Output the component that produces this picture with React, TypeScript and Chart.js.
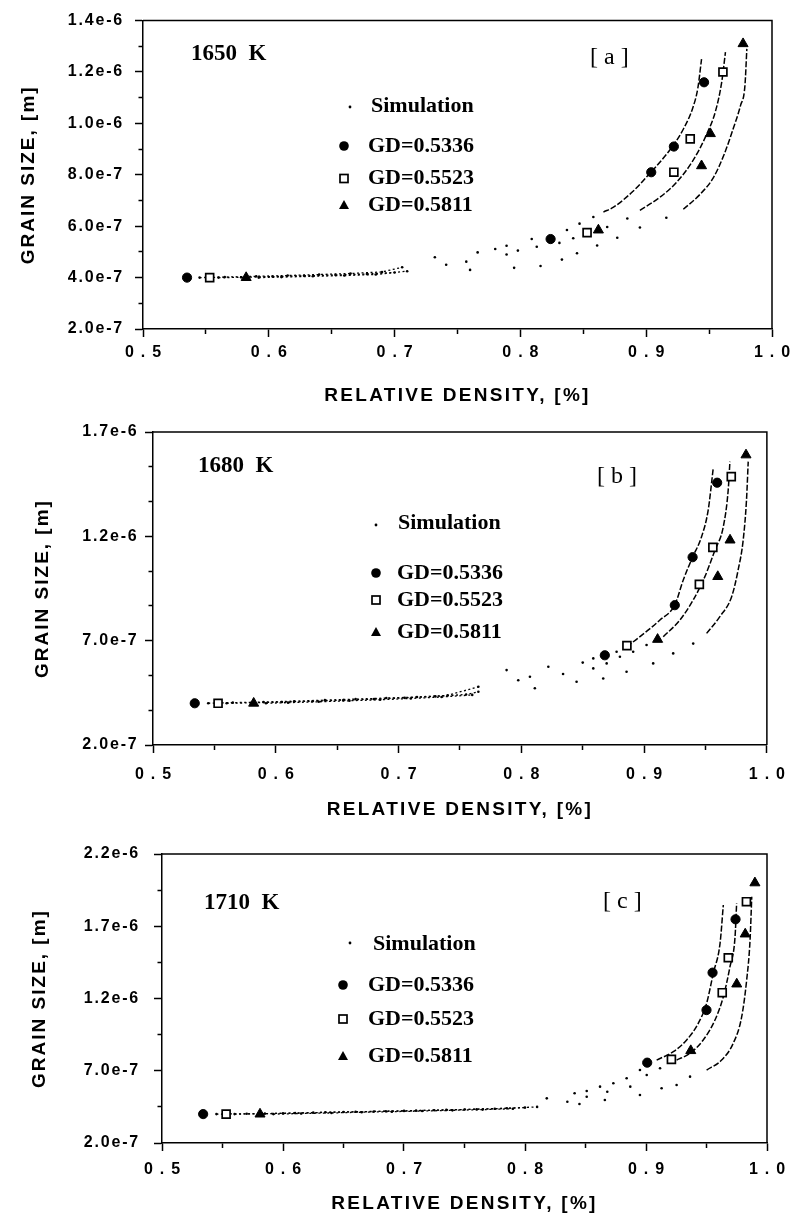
import React, { useEffect, useRef } from "react";
import { Chart, registerables } from "chart.js";

Chart.register(...registerables);

type Pt = [number, number];

// ---------------- axis ticks & texts ----------------
const X_MAJOR = [0.5, 0.6, 0.7, 0.8, 0.9, 1.0];
const X_MINOR = [0.55, 0.65, 0.75, 0.85, 0.95];

const A_Y_MAJOR = [2e-7, 4e-7, 6e-7, 8e-7, 1.0e-6, 1.2e-6, 1.4e-6];
const A_Y_MINOR = [3e-7, 5e-7, 7e-7, 9e-7, 1.1e-6, 1.3e-6];
const B_Y_MAJOR = [2e-7, 7e-7, 1.2e-6, 1.7e-6];
const B_Y_MINOR = [3.667e-7, 5.333e-7, 8.667e-7, 1.0333e-6, 1.3667e-6, 1.5333e-6];
const C_Y_MAJOR = [2e-7, 7e-7, 1.2e-6, 1.7e-6, 2.2e-6];
const C_Y_MINOR = [4.5e-7, 9.5e-7, 1.45e-6, 1.95e-6];

const X_TITLE = "RELATIVE DENSITY, [%]";
const Y_TITLE = "GRAIN SIZE, [m]";
const LEGEND_LABELS = ["Simulation", "GD=0.5336", "GD=0.5523", "GD=0.5811"];
const TEMPS = ["1650  K", "1680  K", "1710  K"];
const TAGS = ["[ a ]", "[ b ]", "[ c ]"];

// density up to which the simulated dots run together as a dotted line
const FLAT_END = [0.712, 0.766, 0.812];

// ---------------- panel a (1650 K) ----------------
const A_GD1: Pt[] = [[0.535, 4.0e-7], [0.824, 5.5e-7], [0.904, 8.1e-7], [0.922, 9.1e-7], [0.946, 1.16e-6]];
const A_GD2: Pt[] = [[0.553, 4.0e-7], [0.853, 5.75e-7], [0.922, 8.1e-7], [0.935, 9.4e-7], [0.961, 1.2e-6]];
const A_GD3: Pt[] = [[0.582, 4.0e-7], [0.862, 5.85e-7], [0.944, 8.35e-7], [0.951, 9.6e-7], [0.977, 1.31e-6]];

const A_SIM1_DOTS: Pt[] = [[0.545, 4.0e-7], [0.565, 4.02e-7], [0.59, 4.05e-7], [0.615, 4.08e-7], [0.64, 4.12e-7], [0.665, 4.16e-7], [0.69, 4.22e-7], [0.706, 4.4e-7], [0.732, 4.79e-7], [0.766, 4.98e-7], [0.78, 5.11e-7], [0.789, 5.24e-7], [0.809, 5.5e-7], [0.837, 5.85e-7], [0.847, 6.1e-7], [0.858, 6.36e-7]];
const A_SIM1_LINE: Pt[] = [[0.866, 6.55e-7], [0.874, 6.74e-7], [0.89, 7.38e-7], [0.9, 7.9e-7], [0.914, 8.67e-7], [0.922, 9.18e-7], [0.93, 9.82e-7], [0.937, 1.06e-6], [0.941, 1.136e-6], [0.944, 1.25e-6]];
const A_SIM2_DOTS: Pt[] = [[0.56, 4.0e-7], [0.578, 4.01e-7], [0.603, 4.04e-7], [0.628, 4.07e-7], [0.653, 4.1e-7], [0.678, 4.14e-7], [0.7, 4.2e-7], [0.741, 4.5e-7], [0.757, 4.62e-7], [0.789, 4.9e-7], [0.798, 5.05e-7], [0.813, 5.2e-7], [0.831, 5.35e-7], [0.842, 5.53e-7], [0.869, 5.97e-7], [0.885, 6.3e-7]];
const A_SIM2_LINE: Pt[] = [[0.895, 6.62e-7], [0.911, 7.13e-7], [0.924, 7.7e-7], [0.937, 8.54e-7], [0.948, 9.57e-7], [0.955, 1.046e-6], [0.96, 1.16e-6], [0.963, 1.277e-6]];
const A_SIM3_DOTS: Pt[] = [[0.592, 4.0e-7], [0.61, 4.02e-7], [0.635, 4.05e-7], [0.66, 4.08e-7], [0.685, 4.12e-7], [0.71, 4.25e-7], [0.76, 4.3e-7], [0.795, 4.38e-7], [0.816, 4.45e-7], [0.833, 4.7e-7], [0.845, 4.95e-7], [0.861, 5.25e-7], [0.877, 5.55e-7], [0.895, 5.95e-7], [0.916, 6.33e-7]];
const A_SIM3_LINE: Pt[] = [[0.9295, 6.66e-7], [0.942, 7.2e-7], [0.9533, 7.88e-7], [0.962, 8.8e-7], [0.9692, 9.8e-7], [0.975, 1.07e-6], [0.9785, 1.148e-6], [0.98, 1.29e-6]];

// ---------------- panel b (1680 K) ----------------
const B_GD1: Pt[] = [[0.534, 4.0e-7], [0.868, 6.3e-7], [0.925, 8.7e-7], [0.9395, 1.1e-6], [0.9595, 1.457e-6]];
const B_GD2: Pt[] = [[0.553, 4.0e-7], [0.886, 6.76e-7], [0.945, 9.7e-7], [0.956, 1.147e-6], [0.971, 1.486e-6]];
const B_GD3: Pt[] = [[0.582, 4.0e-7], [0.911, 7.06e-7], [0.96, 1.007e-6], [0.97, 1.182e-6], [0.983, 1.59e-6]];

const B_SIM1_DOTS: Pt[] = [[0.545, 4.0e-7], [0.565, 4.03e-7], [0.59, 4.06e-7], [0.615, 4.1e-7], [0.64, 4.15e-7], [0.665, 4.2e-7], [0.69, 4.25e-7], [0.715, 4.3e-7], [0.74, 4.38e-7], [0.765, 4.79e-7], [0.788, 5.59e-7], [0.822, 5.75e-7], [0.85, 5.95e-7], [0.8586, 6.15e-7], [0.8776, 6.47e-7]];
const B_SIM1_LINE: Pt[] = [[0.8857, 6.71e-7], [0.8966, 7.19e-7], [0.9129, 7.99e-7], [0.925, 8.71e-7], [0.9319, 9.91e-7], [0.9395, 1.1e-6], [0.9468, 1.198e-6], [0.9522, 1.326e-6], [0.9563, 1.526e-6]];
const B_SIM2_DOTS: Pt[] = [[0.56, 4.0e-7], [0.58, 4.02e-7], [0.605, 4.06e-7], [0.63, 4.1e-7], [0.655, 4.15e-7], [0.68, 4.2e-7], [0.705, 4.26e-7], [0.73, 4.33e-7], [0.755, 4.42e-7], [0.765, 4.55e-7], [0.7975, 5.1e-7], [0.807, 5.27e-7], [0.834, 5.4e-7], [0.8586, 5.67e-7], [0.8695, 5.91e-7], [0.8803, 6.23e-7], [0.8911, 6.47e-7], [0.902, 6.79e-7]];
const B_SIM2_LINE: Pt[] = [[0.9156, 7.19e-7], [0.9292, 7.99e-7], [0.94, 8.95e-7], [0.9495, 1.007e-6], [0.9577, 1.134e-6], [0.9645, 1.246e-6], [0.9685, 1.422e-6], [0.9699, 1.558e-6]];
const B_SIM3_DOTS: Pt[] = [[0.592, 4.0e-7], [0.61, 4.03e-7], [0.635, 4.07e-7], [0.66, 4.12e-7], [0.685, 4.17e-7], [0.71, 4.23e-7], [0.735, 4.3e-7], [0.76, 4.4e-7], [0.811, 4.72e-7], [0.845, 5.03e-7], [0.8667, 5.19e-7], [0.8857, 5.51e-7], [0.9074, 5.91e-7], [0.9237, 6.39e-7], [0.94, 6.86e-7]];
const B_SIM3_LINE: Pt[] = [[0.9509, 7.35e-7], [0.9617, 8.15e-7], [0.9713, 9.11e-7], [0.9766, 1.039e-6], [0.9807, 1.182e-6], [0.9834, 1.374e-6], [0.9848, 1.558e-6]];

// ---------------- panel c (1710 K) ----------------
const C_GD1: Pt[] = [[0.534, 4.0e-7], [0.901, 7.56e-7], [0.95, 1.12e-6], [0.955, 1.379e-6], [0.974, 1.748e-6]];
const C_GD2: Pt[] = [[0.553, 4.0e-7], [0.921, 7.79e-7], [0.963, 1.24e-6], [0.968, 1.482e-6], [0.983, 1.87e-6]];
const C_GD3: Pt[] = [[0.581, 4.0e-7], [0.937, 8.39e-7], [0.975, 1.3e-6], [0.982, 1.646e-6], [0.99, 2.0e-6]];

const C_SIM1_DOTS: Pt[] = [[0.545, 4.0e-7], [0.57, 4.02e-7], [0.6, 4.05e-7], [0.625, 4.1e-7], [0.65, 4.15e-7], [0.675, 4.18e-7], [0.7, 4.22e-7], [0.725, 4.27e-7], [0.75, 4.32e-7], [0.775, 4.37e-7], [0.8, 4.45e-7], [0.818, 5.09e-7], [0.841, 5.44e-7], [0.851, 5.6e-7], [0.862, 5.9e-7], [0.873, 6.13e-7], [0.884, 6.48e-7], [0.895, 7.05e-7]];
const C_SIM1_LINE: Pt[] = [[0.9088, 7.74e-7], [0.9226, 8.32e-7], [0.9336, 9.13e-7], [0.9432, 1.028e-6], [0.9501, 1.167e-6], [0.9556, 1.374e-6], [0.9612, 1.582e-6], [0.9639, 1.847e-6]];
const C_SIM2_DOTS: Pt[] = [[0.56, 4.0e-7], [0.585, 4.03e-7], [0.61, 4.07e-7], [0.635, 4.12e-7], [0.66, 4.16e-7], [0.685, 4.2e-7], [0.71, 4.24e-7], [0.735, 4.29e-7], [0.76, 4.34e-7], [0.785, 4.4e-7], [0.81, 4.5e-7], [0.835, 4.85e-7], [0.851, 5.2e-7], [0.868, 5.55e-7], [0.887, 5.9e-7], [0.9006, 6.71e-7], [0.9116, 7.17e-7]];
const C_SIM2_LINE: Pt[] = [[0.9253, 7.74e-7], [0.9364, 8.21e-7], [0.9473, 9.13e-7], [0.957, 1.051e-6], [0.9639, 1.212e-6], [0.9694, 1.42e-6], [0.9736, 1.628e-6], [0.9749, 1.859e-6]];
const C_SIM3_DOTS: Pt[] = [[0.592, 4.0e-7], [0.615, 4.04e-7], [0.64, 4.08e-7], [0.665, 4.13e-7], [0.69, 4.17e-7], [0.715, 4.21e-7], [0.74, 4.26e-7], [0.765, 4.31e-7], [0.79, 4.37e-7], [0.845, 4.7e-7], [0.866, 4.98e-7], [0.895, 5.32e-7], [0.9129, 5.79e-7], [0.9253, 6.01e-7], [0.9364, 6.59e-7]];
const C_SIM3_LINE: Pt[] = [[0.9501, 7.05e-7], [0.9625, 7.74e-7], [0.9721, 8.9e-7], [0.9791, 1.074e-6], [0.9832, 1.328e-6], [0.986, 1.605e-6], [0.9874, 1.904e-6]];

// ---------------- styling / layout ----------------
const SANS = '"Liberation Sans", Arial, Helvetica, sans-serif';
const SERIF = '"Liberation Serif", "Times New Roman", serif';

const PANELS: any[] = [
  {
    temp: TEMPS[0], tag: TAGS[0], flatEnd: FLAT_END[0], yMax: 1.4e-6, yMajor: A_Y_MAJOR, yMinor: A_Y_MINOR,
    gd: [A_GD1, A_GD2, A_GD3],
    sim: [[A_SIM1_DOTS, A_SIM1_LINE], [A_SIM2_DOTS, A_SIM2_LINE], [A_SIM3_DOTS, A_SIM3_LINE]],
    geom: {
      canvasTop: 0, canvasH: 410, padTop: 18, padRight: 18, yAxisW: 143, xAxisH: 81,
      xTickPad: 6, yTickPad: 11, xTitlePadB: 2.6, yTitlePadT: 17.6,
      tempXY: [191, 54], tagXY: [590, 58],
      simDot: [350, 107], simText: [371, 106],
      markerX: 344, textX: 368, rowsY: [146, 178.5, 205],
    },
  },
  {
    temp: TEMPS[1], tag: TAGS[1], flatEnd: FLAT_END[1], yMax: 1.7e-6, yMajor: B_Y_MAJOR, yMinor: B_Y_MINOR,
    gd: [B_GD1, B_GD2, B_GD3],
    sim: [[B_SIM1_DOTS, B_SIM1_LINE], [B_SIM2_DOTS, B_SIM2_LINE], [B_SIM3_DOTS, B_SIM3_LINE]],
    geom: {
      canvasTop: 410, canvasH: 415, padTop: 22, padRight: 23, yAxisW: 153, xAxisH: 80,
      xTickPad: 12, yTickPad: 6.5, xTitlePadB: 3.6, yTitlePadT: 31.6,
      tempXY: [198, 56], tagXY: [597, 67],
      simDot: [376, 115], simText: [398, 113],
      markerX: 376, textX: 397, rowsY: [163, 190, 222],
    },
  },
  {
    temp: TEMPS[2], tag: TAGS[2], flatEnd: FLAT_END[2], yMax: 2.2e-6, yMajor: C_Y_MAJOR, yMinor: C_Y_MINOR,
    gd: [C_GD1, C_GD2, C_GD3],
    sim: [[C_SIM1_DOTS, C_SIM1_LINE], [C_SIM2_DOTS, C_SIM2_LINE], [C_SIM3_DOTS, C_SIM3_LINE]],
    geom: {
      canvasTop: 825, canvasH: 397, padTop: 29, padRight: 23, yAxisW: 162, xAxisH: 79,
      xTickPad: 9, yTickPad: 14, xTitlePadB: 6.6, yTitlePadT: 28.6,
      tempXY: [204, 78], tagXY: [603, 77],
      simDot: [350, 118], simText: [373, 119],
      markerX: 343, textX: 368, rowsY: [160, 194, 231],
    },
  },
];

function mkTicks(major: number[], minor: number[]) {
  const t = [
    ...major.map((v) => ({ value: v, isMinor: false })),
    ...minor.map((v) => ({ value: v, isMinor: true })),
  ];
  return t.sort((a, b) => a.value - b.value);
}

const spacingPlugin = {
  id: "spacing",
  beforeDraw(chart: any) {
    if (chart.$spaced) return;
    chart.$spaced = true;
    const patch = (scale: any, method: string, sp: string) => {
      const orig = scale[method];
      scale[method] = function (...args: any[]) {
        const ctx = this.ctx;
        ctx.save();
        ctx.letterSpacing = sp;
        const r = orig.apply(this, args);
        ctx.restore();
        return r;
      };
    };
    patch(chart.scales.x, "drawLabels", "7px");
    patch(chart.scales.y, "drawLabels", "1.8px");
    patch(chart.scales.x, "drawTitle", "2.3px");
    patch(chart.scales.y, "drawTitle", "2px");
  },
};

function drawLegendMarker(ctx: CanvasRenderingContext2D, kind: number, x: number, y: number) {
  ctx.save();
  ctx.fillStyle = "#000";
  ctx.strokeStyle = "#000";
  if (kind === 0) {
    ctx.beginPath();
    ctx.arc(x, y, 4.8, 0, Math.PI * 2);
    ctx.fill();
  } else if (kind === 1) {
    ctx.lineWidth = 1.7;
    ctx.fillStyle = "#fff";
    ctx.fillRect(x - 4, y - 4, 8, 8);
    ctx.strokeRect(x - 4, y - 4, 8, 8);
  } else {
    ctx.beginPath();
    ctx.moveTo(x, y - 5);
    ctx.lineTo(x + 5, y + 4);
    ctx.lineTo(x - 5, y + 4);
    ctx.closePath();
    ctx.fill();
  }
  ctx.restore();
}

function makeDecor(p: any) {
  const g = p.geom;
  return {
    id: "decor",
    afterDraw(chart: any) {
      const ctx: CanvasRenderingContext2D = chart.ctx;
      const ca = chart.chartArea;
      ctx.save();
      // frame: top and right sides
      ctx.strokeStyle = "#000";
      ctx.lineWidth = 1.5;
      ctx.beginPath();
      ctx.moveTo(ca.left, ca.top);
      ctx.lineTo(ca.right, ca.top);
      ctx.lineTo(ca.right, ca.bottom);
      ctx.stroke();
      // annotations
      ctx.fillStyle = "#000";
      ctx.textBaseline = "middle";
      ctx.textAlign = "left";
      ctx.font = `bold 23px ${SERIF}`;
      ctx.fillText(p.temp, g.tempXY[0], g.tempXY[1]);
      ctx.font = `24px ${SERIF}`;
      ctx.fillText(p.tag, g.tagXY[0], g.tagXY[1]);
      // legend
      ctx.font = `bold 22px ${SERIF}`;
      ctx.beginPath();
      ctx.arc(g.simDot[0], g.simDot[1], 1.4, 0, Math.PI * 2);
      ctx.fill();
      ctx.fillText(LEGEND_LABELS[0], g.simText[0], g.simText[1]);
      g.rowsY.forEach((y: number, i: number) => {
        drawLegendMarker(ctx, i, g.markerX, y);
        ctx.fillStyle = "#000";
        ctx.fillText(LEGEND_LABELS[i + 1], g.textX, y);
      });
      ctx.restore();
    },
  };
}

function buildConfig(p: any): any {
  const g = p.geom;
  const font = (size: number) => ({ family: SANS, size, weight: "bold", lineHeight: 1.2 });
  const datasets: any[] = [];
  p.sim.forEach(([dots, line]: [Pt[], Pt[]]) => {
    datasets.push({
      type: "line",
      data: dots,
      showLine: true,
      borderColor: "#000",
      borderWidth: 1.3,
      borderDash: [2, 2.5],
      pointRadius: 1.3,
      pointBackgroundColor: "#000",
      pointBorderWidth: 0,
      fill: false,
      segment: {
        borderColor: (c: any) => (c.p1.parsed.x <= p.flatEnd ? "#000" : "rgba(0,0,0,0)"),
      },
      order: 2,
    });
    datasets.push({
      type: "line",
      data: line,
      showLine: true,
      borderColor: "#000",
      borderWidth: 1.5,
      borderDash: [6, 2],
      pointRadius: 0,
      cubicInterpolationMode: "monotone",
      fill: false,
      order: 2,
    });
  });
  const styles = [
    { pointStyle: "circle", pointRadius: 4.6, pointBackgroundColor: "#000", pointBorderWidth: 1 },
    { pointStyle: "rect", pointRadius: 5.6, pointBackgroundColor: "#fff", pointBorderWidth: 1.7 },
    { pointStyle: "triangle", pointRadius: 5.8, pointBackgroundColor: "#000", pointBorderWidth: 1 },
  ];
  p.gd.forEach((d: Pt[], i: number) => {
    datasets.push({
      type: "scatter",
      data: d,
      showLine: false,
      pointBorderColor: "#000",
      order: 1,
      ...styles[i],
    });
  });

  return {
    type: "scatter",
    data: { datasets },
    options: {
      animation: false,
      responsive: false,
      devicePixelRatio: 1,
      events: [],
      layout: { padding: { left: 0, right: g.padRight, top: g.padTop, bottom: 0 } },
      plugins: { legend: { display: false }, tooltip: { enabled: false } },
      scales: {
        x: {
          type: "linear",
          position: "bottom",
          min: 0.5,
          max: 1.0,
          afterBuildTicks: (s: any) => {
            s.ticks = mkTicks(X_MAJOR, X_MINOR);
          },
          afterFit: (s: any) => {
            s.height = g.xAxisH;
          },
          grid: {
            drawOnChartArea: false,
            drawTicks: true,
            tickLength: 8,
            tickWidth: 1.5,
            tickColor: "#000",
            tickBorderDash: (c: any) => (c.tick && c.tick.isMinor ? [4.5, 40] : []),
          },
          border: { display: true, color: "#000", width: 1.5 },
          ticks: {
            autoSkip: false,
            maxRotation: 0,
            color: "#000",
            font: font(16),
            padding: g.xTickPad,
            labelOffset: 3.5,
            callback: (v: number) => (X_MAJOR.includes(v) ? v.toFixed(1) : ""),
          },
          title: {
            display: true,
            text: X_TITLE,
            color: "#000",
            font: font(19),
            padding: { top: 0, bottom: g.xTitlePadB },
          },
        },
        y: {
          type: "linear",
          position: "left",
          min: 2e-7,
          max: p.yMax,
          afterBuildTicks: (s: any) => {
            s.ticks = mkTicks(p.yMajor, p.yMinor);
          },
          afterFit: (s: any) => {
            s.width = g.yAxisW;
          },
          grid: {
            drawOnChartArea: false,
            drawTicks: true,
            tickLength: 8,
            tickWidth: 1.5,
            tickColor: "#000",
            tickBorderDash: (c: any) => (c.tick && c.tick.isMinor ? [0, 3.5, 4, 40] : []),
          },
          border: { display: true, color: "#000", width: 1.5 },
          ticks: {
            autoSkip: false,
            color: "#000",
            font: font(16),
            padding: g.yTickPad,
            callback: (v: number) => (p.yMajor.includes(v) ? v.toExponential(1) : ""),
          },
          title: {
            display: true,
            text: Y_TITLE,
            color: "#000",
            font: font(19),
            padding: { top: g.yTitlePadT, bottom: 0 },
          },
        },
      },
    },
    plugins: [spacingPlugin, makeDecor(p)],
  };
}

export default function App() {
  const r0 = useRef<HTMLCanvasElement>(null);
  const r1 = useRef<HTMLCanvasElement>(null);
  const r2 = useRef<HTMLCanvasElement>(null);
  const refs = [r0, r1, r2];

  useEffect(() => {
    const charts = PANELS.map((p, i) => new Chart(refs[i].current as HTMLCanvasElement, buildConfig(p)));
    return () => charts.forEach((c) => c.destroy());
  }, []);

  return (
    <div style={{ position: "absolute", left: 0, top: 0, width: 790, height: 1222, background: "#fff" }}>
      {PANELS.map((p, i) => (
        <canvas
          key={i}
          ref={refs[i]}
          width={790}
          height={p.geom.canvasH}
          style={{ position: "absolute", left: 0, top: p.geom.canvasTop, width: 790, height: p.geom.canvasH, display: "block" }}
        />
      ))}
    </div>
  );
}
